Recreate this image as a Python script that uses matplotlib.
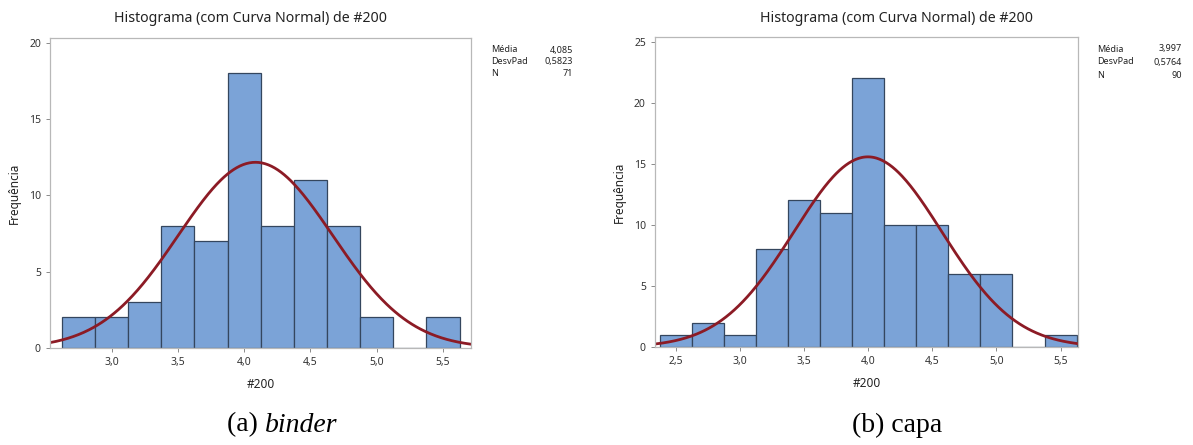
import numpy as np
import matplotlib
matplotlib.use('Agg')
import matplotlib.pyplot as plt

# histogram data (bin centres, width 0.25)
bins_binder = [2.75, 3.0, 3.25, 3.5, 3.75, 4.0, 4.25, 4.5, 4.75, 5.0, 5.25, 5.5]
counts_binder = [2, 2, 3, 8, 7, 18, 8, 11, 8, 2, 0, 2]
stats_binder = {'Média': '4,085', 'DesvPad': '0,5823', 'N': '71'}
mean_binder, sd_binder, n_binder = 4.085, 0.5823, 71

bins_capa = [2.5, 2.75, 3.0, 3.25, 3.5, 3.75, 4.0, 4.25, 4.5, 4.75, 5.0, 5.25, 5.5]
counts_capa = [1, 2, 1, 8, 12, 11, 22, 10, 10, 6, 6, 0, 1]
stats_capa = {'Média': '3,997', 'DesvPad': '0,5764', 'N': '90'}
mean_capa, sd_capa, n_capa = 3.997, 0.5764, 90

bin_width = 0.25
xticks_binder = [3.0, 3.5, 4.0, 4.5, 5.0, 5.5]
xticks_capa = [2.5, 3.0, 3.5, 4.0, 4.5, 5.0, 5.5]

plt.rcParams['font.family'] = ['Noto Sans', 'DejaVu Sans']

bar_color = '#7ba3d7'
edge_color = '#34465e'
curve_color = '#8c1b25'
frame_color = '#b8b8b8'

fig = plt.figure(figsize=(11.93, 4.45), dpi=100)


def panel(rect, centres, counts, mean, sd, n, stats, xlim, ylim, yticks, xticks,
          title_x, stats_x0, stats_x1, stats_y, stats_dy):
    ax = fig.add_axes(rect)
    ax.bar(centres, counts, width=bin_width, color=bar_color,
           edgecolor=edge_color, linewidth=0.9)
    xs = np.linspace(xlim[0], xlim[1], 400)
    pdf = n * bin_width / (sd * np.sqrt(2 * np.pi)) * np.exp(-0.5 * ((xs - mean) / sd) ** 2)
    ax.plot(xs, pdf, color=curve_color, linewidth=2)
    ax.set_xlim(*xlim)
    ax.set_ylim(*ylim)
    ax.set_yticks(yticks)
    ax.set_xticks(xticks)
    ax.set_xticklabels([('%.1f' % t).replace('.', ',') for t in xticks])
    ax.tick_params(labelsize=7.5, colors='#333333', length=3, width=0.6)
    ax.tick_params(axis='both', color='#777777')
    for s in ax.spines.values():
        s.set_color(frame_color)
        s.set_linewidth(0.9)
    ax.set_ylabel('Frequência', fontsize=8.5, color='#222222', labelpad=6)
    ax.set_xlabel('#200', fontsize=8.5, color='#222222', labelpad=7)
    fig.text(title_x, 0.958, 'Histograma (com Curva Normal) de #200',
             ha='center', va='center', fontsize=10.2, color='#222222')
    for i, (k, v) in enumerate(stats.items()):
        y = stats_y - i * stats_dy
        fig.text(stats_x0, y, k, ha='left', va='center', fontsize=6.5, color='#222222')
        fig.text(stats_x1, y, v, ha='right', va='center', fontsize=6.5, color='#222222')
    return ax


panel([0.0419, 0.218, 0.3529, 0.6966], bins_binder, counts_binder, mean_binder,
      sd_binder, n_binder, stats_binder, (2.535, 5.711), (0, 20.3),
      [0, 5, 10, 15, 20], xticks_binder, 251 / 1193, 491 / 1193, 573 / 1193,
      1 - 50 / 445, 11.5 / 445)

panel([0.549, 0.2202, 0.3546, 0.697], bins_capa, counts_capa, mean_capa,
      sd_capa, n_capa, stats_capa, (2.336, 5.636), (0, 25.4),
      [0, 5, 10, 15, 20, 25], xticks_capa, 896 / 1193, 1097 / 1193, 1182 / 1193,
      1 - 49 / 445, 13 / 445)

# sub-figure captions
fig.text(265 / 1193, 1 - 425 / 445, '(a) ', ha='right', va='center',
         fontsize=20, family='Liberation Serif')
fig.text(265 / 1193, 1 - 425 / 445, 'binder', ha='left', va='center',
         fontsize=20, family='Liberation Serif', style='italic')
fig.text(897 / 1193, 1 - 425 / 445, '(b) capa', ha='center', va='center',
         fontsize=20, family='Liberation Serif')

fig.savefig('out.png', dpi=100)
